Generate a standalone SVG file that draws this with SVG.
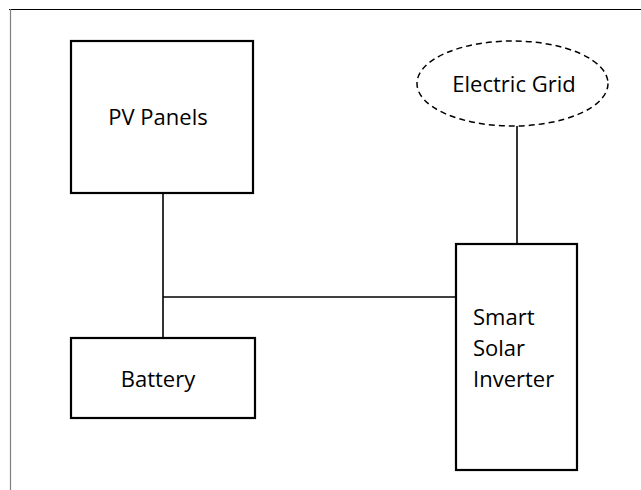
<svg xmlns="http://www.w3.org/2000/svg" width="641" height="490" viewBox="0 0 641 490">
<style>
.box{fill:#fff;stroke:#000;stroke-width:2.2}
.lbl{font-family:"Open Sans","Noto Sans",sans-serif;font-size:22px;fill:#000}
.wire{stroke:#000;stroke-width:1.6;fill:none}
</style>
<rect width="641" height="490" fill="#fff"/>
<line x1="9" y1="9.5" x2="641" y2="9.5" stroke="#000" stroke-width="1"/>
<line x1="10.5" y1="9" x2="10.5" y2="490" stroke="#808080" stroke-width="1.2"/>
<g id="connectors">
<line class="wire" x1="163" y1="194" x2="163" y2="338"/>
<line class="wire" x1="163" y1="297" x2="456" y2="297"/>
<line class="wire" x1="517" y1="126" x2="517" y2="244"/>
</g>
<g id="pv">
<rect class="box" x="71" y="41" width="182" height="152"/>
<text class="lbl" x="158" y="125" text-anchor="middle">PV Panels</text>
</g>
<g id="battery">
<rect class="box" x="71" y="338" width="184" height="80"/>
<text class="lbl" x="158" y="387" text-anchor="middle">Battery</text>
</g>
<g id="grid">
<ellipse cx="512.5" cy="83.5" rx="95.5" ry="42.5" fill="#fff" stroke="#000" stroke-width="1.5" stroke-dasharray="6,4"/>
<text class="lbl" x="514" y="92" text-anchor="middle">Electric Grid</text>
</g>
<g id="inverter">
<rect class="box" x="456" y="244" width="121" height="226"/>
<text class="lbl" x="473" y="325">Smart</text>
<text class="lbl" x="473" y="356">Solar</text>
<text class="lbl" x="473" y="387">Inverter</text>
</g>
</svg>
